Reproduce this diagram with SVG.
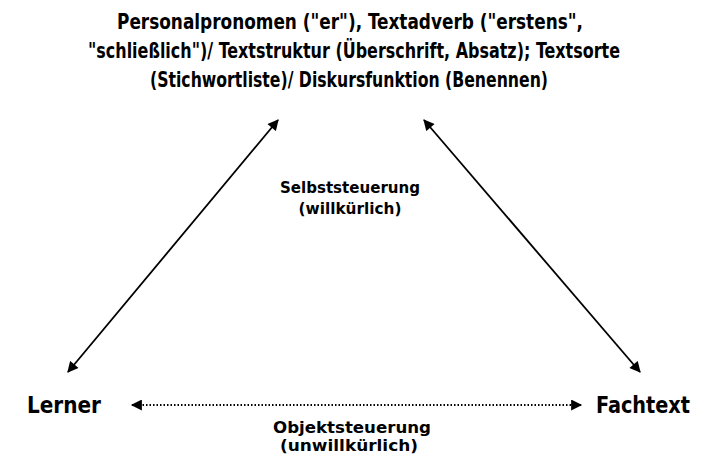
<svg xmlns="http://www.w3.org/2000/svg" width="702" height="454" viewBox="0 0 702 454">
<style>
text{font-family:"DejaVu Sans Condensed","DejaVu Sans",sans-serif;font-weight:bold;fill:#000;text-anchor:middle}
.t{font-size:21px}
.n{font-size:23px}
.l{font-size:16px}
.c{stroke:#000;stroke-width:1.8;fill:none}
.d{stroke-dasharray:1.5 2}
</style>
<defs>
<marker id="ah" viewBox="0 0 10 10" refX="9" refY="5" markerWidth="12" markerHeight="11" markerUnits="userSpaceOnUse" orient="auto-start-reverse">
<path d="M0,0 L10,5 L0,10 z" fill="#000"/>
</marker>
</defs>
<rect width="702" height="454" fill="#fff"/>
<g id="top">
<text class="t" x="350" y="29" textLength="466" lengthAdjust="spacingAndGlyphs">Personalpronomen ("er"), Textadverb ("erstens",</text>
<text class="t" x="354" y="58" textLength="532" lengthAdjust="spacingAndGlyphs">"schließlich")/ Textstruktur (Überschrift, Absatz); Textsorte</text>
<text class="t" x="349" y="87" textLength="398" lengthAdjust="spacingAndGlyphs">(Stichwortliste)/ Diskursfunktion (Benennen)</text>
</g>
<g id="lerner"><text class="n" x="64" y="413" textLength="74" lengthAdjust="spacingAndGlyphs">Lerner</text></g>
<g id="fachtext"><text class="n" x="643" y="413" textLength="94" lengthAdjust="spacingAndGlyphs">Fachtext</text></g>
<g id="connectors">
<line class="c" x1="68" y1="372" x2="278" y2="120" marker-start="url(#ah)" marker-end="url(#ah)"/>
<line class="c" x1="424" y1="120" x2="640" y2="372" marker-start="url(#ah)" marker-end="url(#ah)"/>
<line class="c d" x1="132" y1="405" x2="581" y2="405" marker-start="url(#ah)" marker-end="url(#ah)"/>
<text class="l" x="350" y="193" textLength="140" lengthAdjust="spacingAndGlyphs">Selbststeuerung</text>
<text class="l" x="350" y="214" textLength="103" lengthAdjust="spacingAndGlyphs">(willkürlich)</text>
<text class="l" x="352" y="433" textLength="158" lengthAdjust="spacingAndGlyphs">Objektsteuerung</text>
<text class="l" x="349" y="451" textLength="138" lengthAdjust="spacingAndGlyphs">(unwillkürlich)</text>
</g>
</svg>
